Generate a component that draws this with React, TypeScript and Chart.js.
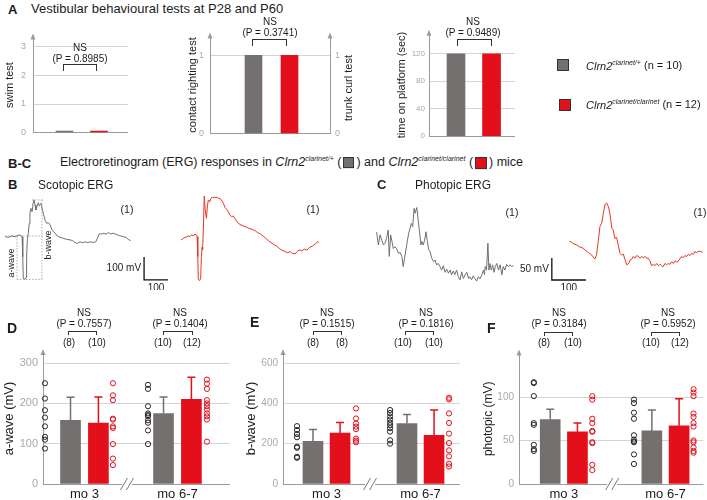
import React, { useEffect, useRef } from 'react';
import { Chart, registerables } from 'chart.js';

Chart.register(...registerables);

const FONT = '"Liberation Sans", Arial, Helvetica, sans-serif';
const C_HET = '#74706f';
const C_HOM = '#e3101b';
const C_HET_DOT = '#262626';
const C_AXIS = '#9b9b9b';
const C_GRID = '#d4d4d4';
const C_TICK = '#a9a9a9';
const C_TEXT = '#1c1c1c';
const C_TRACE_HET = '#6f6f6f';
const C_TRACE_HOM = '#e4371f';

// ---------------- data ----------------
const genotypeSup = ['clarinet/+', 'clarinet/clarinet'];
const genotypeN = [10, 12];

const swimTest = [0.05, 0.05];
const contactRighting = [1, 1];
const platformTime = [120, 120];
const vestibularP = ['0.8985', '0.3741', '0.9489'];

const ages = ['mo 3', 'mo 6-7'];

const aWaveHet = [158, 175];
const aWaveHom = [151, 210];
const aWaveHetSd = [57, 41];
const aWaveHomSd = [65, 55];
const aWaveHetMo3 = [250, 212, 183, 165, 143, 117, 110, 88];
const aWaveHomMo3 = [250, 220, 208, 162, 160, 143, 139, 99, 63, 47];
const aWaveHetMo67 = [246, 236, 193, 175, 171, 168, 158, 152, 133, 99];
const aWaveHomMo67 = [341, 259, 249, 236, 208, 200, 193, 185, 175, 168, 160, 105];
const aWaveP = ['0.7557', '0.1404'];
const aWaveN = [[8, 10], [10, 12]];

const bWaveHet = [212, 300];
const bWaveHom = [253, 242];
const bWaveHetSd = [58, 45];
const bWaveHomSd = [52, 125];
const bWaveHetMo3 = [287, 268, 248, 232, 185, 180, 135, 130];
const bWaveHomMo3 = [375, 325, 300, 285, 272, 225, 215, 207];
const bWaveHetMo67 = [367, 352, 335, 320, 305, 292, 277, 260, 217, 200];
const bWaveHomMo67 = [428, 420, 350, 303, 250, 203, 167, 137, 100, 87];
const bWaveP = ['0.1515', '0.1816'];
const bWaveN = [[8, 8], [10, 10]];

const photHet = [74, 61];
const photHom = [60, 67];
const photHetSd = [12, 24];
const photHomSd = [10, 31];
const photHetMo3 = [117, 116, 101, 70, 68, 45, 40, 38];
const photHomMo3 = [101, 97, 75, 70, 61, 60, 48, 47, 22, 16];
const photHetMo67 = [97, 93, 82, 75, 56, 51, 49, 48, 34, 23];
const photHomMo67 = [109, 105, 101, 81, 77, 70, 66, 50, 48, 42, 38, 36];
const photP = ['0.3184', '0.5952'];
const photN = [[8, 10], [10, 12]];

// ERG traces: time (ms) and amplitude (mV)
const scoHetT = [0, 14, 28, 42, 56, 65, 71, 74, 76, 83, 88, 90, 93, 97, 101, 104, 108, 113, 117, 121, 125, 129, 135, 139, 143, 149, 153, 157, 163, 168, 174, 181, 188, 195, 202, 209, 218, 229, 243, 257, 271, 282, 292, 302, 313, 324, 334, 343, 354, 368, 379, 385, 393, 403, 413, 421, 431, 441, 452, 463, 473, 482, 493, 505, 514, 524];
const scoHetV = [-3, -6, 0, -3, 4, 3, -3, -90, -184, -189, -180, -90, -17, 12, 55, 99, 120, 106, 142, 157, 135, 113, 135, 145, 131, 142, 128, 110, 84, 67, 55, 58, 48, 29, 19, 12, 0, -6, -10, -15, -17, -20, -29, -32, -26, -29, -25, -29, -26, -28, -25, -10, 9, 9, 12, 7, 15, 9, 12, 7, 3, 0, -3, -6, -15, -20];
const scoHomT = [0, 10, 19, 31, 38, 44, 51, 58, 64, 67, 70, 72, 78, 82, 85, 88, 90, 93, 97, 101, 106, 110, 114, 120, 125, 132, 139, 149, 158, 167, 177, 183, 195, 204, 211, 218, 228, 239, 250, 261, 274, 283, 297, 309, 320, 331, 342, 353, 364, 375, 386, 399, 409, 420, 434, 445, 455, 464, 475, 484, 492, 503, 514, 525, 537, 548, 559, 570, 575];
const scoHomV = [-15, -7, -3, 3, 0, 9, 3, 12, 7, 0, -87, -186, -191, -181, -87, -46, -58, 29, 177, 116, 80, 133, 160, 152, 167, 171, 171, 171, 167, 162, 145, 128, 113, 94, 87, 90, 73, 58, 51, 46, 41, 36, 32, 26, 17, 12, 3, -7, -17, -26, -33, -41, -51, -58, -65, -70, -65, -73, -75, -65, -58, -61, -55, -58, -46, -41, -32, -22, -26];
const phoHetT = [0, 5, 10, 15, 20, 25, 29, 34, 37, 41, 45, 49, 54, 59, 64, 69, 74, 78, 82, 86, 90, 94, 98, 102, 106, 110, 113, 118, 122, 126, 130, 133, 137, 141, 145, 149, 153, 157, 162, 167, 172, 176, 181, 186, 191, 196, 201, 206, 211, 216, 220, 225, 230, 235, 240, 245, 250, 255, 260, 265, 270, 274, 279, 284, 289, 294, 299, 304, 309, 314, 317, 319, 323, 327, 330, 333, 337, 341, 345, 349, 353, 358, 363, 368, 372, 377, 382, 387, 392, 397, 402];
const phoHetV = [29, 0, 23, 11, 0, 4, 15, 34, -26, 23, 8, -8, -4, -9, -19, -17, -26, -49, -30, -11, 8, 26, 38, 49, 42, 83, 72, 85, 57, 30, 0, 8, 0, 11, 30, 8, -11, -15, -30, -38, -34, -45, -42, -49, -57, -47, -62, -55, -64, -57, -68, -59, -67, -57, -72, -79, -61, -76, -68, -62, -76, -72, -79, -70, -76, -82, -72, -77, -68, -57, -67, -49, -57, 4, -57, -42, -57, -45, -62, -49, -42, -57, -45, -68, -49, -57, -44, -49, -45, -49, -47];
const phoHomT = [0, 7, 14, 22, 29, 37, 46, 56, 66, 75, 80, 85, 90, 95, 100, 105, 110, 115, 120, 125, 129, 134, 139, 144, 149, 154, 159, 164, 169, 174, 179, 184, 188, 193, 198, 203, 208, 213, 218, 223, 227, 232, 237, 242, 247, 252, 257, 262, 267, 271, 276, 281, 286, 291, 296, 301, 306, 311, 316, 321, 325, 330, 335, 340, 345, 350, 355, 360, 365, 369, 374, 379, 384, 392];
const phoHomV = [9, 6, 2, 0, -4, -6, -11, -17, -23, -32, -23, 8, 42, 49, 72, 92, 95, 87, 68, 38, 34, 15, 17, 0, -19, -23, -21, -34, -45, -42, -34, -32, -26, -30, -24, -26, -30, -26, -29, -26, -30, -30, -36, -47, -44, -47, -42, -47, -44, -47, -49, -42, -45, -42, -44, -38, -42, -36, -39, -36, -32, -26, -29, -24, -26, -21, -24, -19, -21, -15, -17, -15, -14, -17];

// ---------------- plugins ----------------
const arrowPlugin: any = {
  id: 'axisArrow',
  afterDraw(chart: any, _a: any, opts: any) {
    const sides: string[] = opts.sides || [];
    const { ctx, chartArea } = chart;
    ctx.save();
    ctx.fillStyle = C_AXIS;
    sides.forEach((s) => {
      const x = s === 'left' ? chartArea.left : chartArea.right;
      ctx.beginPath();
      ctx.moveTo(x, chartArea.top - 4);
      ctx.lineTo(x - 2.5, chartArea.top + 2);
      ctx.lineTo(x + 2.5, chartArea.top + 2);
      ctx.closePath();
      ctx.fill();
    });
    ctx.restore();
  },
};

const errorPlugin: any = {
  id: 'errorBars',
  afterDatasetsDraw(chart: any) {
    const { ctx } = chart;
    const ys = chart.scales.y;
    chart.data.datasets.forEach((ds: any, i: number) => {
      if (!ds.errors) return;
      const meta = chart.getDatasetMeta(i);
      ctx.save();
      ctx.strokeStyle = ds.backgroundColor;
      ctx.lineWidth = 1.5;
      meta.data.forEach((el: any, j: number) => {
        const v = ds.data[j].y;
        const top = ys.getPixelForValue(v + ds.errors[j]);
        ctx.beginPath();
        ctx.moveTo(el.x, el.y);
        ctx.lineTo(el.x, top);
        ctx.moveTo(el.x - 4, top);
        ctx.lineTo(el.x + 4, top);
        ctx.stroke();
      });
      ctx.restore();
    });
  },
};

const breakPlugin: any = {
  id: 'axisBreak',
  afterDraw(chart: any, _a: any, opts: any) {
    if (opts.at == null) return;
    const { ctx, chartArea } = chart;
    const x = chart.scales.x.getPixelForValue(opts.at);
    const y = chartArea.bottom;
    ctx.save();
    ctx.fillStyle = '#fff';
    ctx.fillRect(x - 5, y - 2, 10, 4);
    ctx.strokeStyle = '#777';
    ctx.lineWidth = 1;
    [-3, 3].forEach((dx) => {
      ctx.beginPath();
      ctx.moveTo(x + dx - 3.5, y + 6);
      ctx.lineTo(x + dx + 3.5, y - 6);
      ctx.stroke();
    });
    ctx.restore();
  },
};

const scaleBarPlugin: any = {
  id: 'scaleBar',
  afterDraw(chart: any, _a: any, opts: any) {
    if (!opts.t0 && opts.t0 !== 0) return;
    const { ctx } = chart;
    const xs = chart.scales.x;
    const ys = chart.scales.y;
    const x0 = xs.getPixelForValue(opts.t0);
    const x1 = xs.getPixelForValue(opts.t0 + opts.dt);
    const y0 = ys.getPixelForValue(opts.v0);
    const y1 = ys.getPixelForValue(opts.v0 + opts.dv);
    ctx.save();
    ctx.strokeStyle = '#111';
    ctx.lineWidth = 1.3;
    ctx.beginPath();
    ctx.moveTo(x0, y1);
    ctx.lineTo(x0, y0);
    ctx.lineTo(x1, y0);
    ctx.stroke();
    ctx.fillStyle = C_TEXT;
    ctx.font = `10px ${FONT}`;
    ctx.textAlign = 'right';
    ctx.textBaseline = 'middle';
    ctx.fillText(opts.vLabel, x0 - 3, (y0 + y1) / 2);
    ctx.textAlign = 'center';
    ctx.textBaseline = 'top';
    ctx.fillText(opts.tLabel, (x0 + x1) / 2, y0 + 3);
    ctx.restore();
  },
};

const waveMarksPlugin: any = {
  id: 'waveMarks',
  beforeDatasetsDraw(chart: any, _a: any, opts: any) {
    if (!opts.show) return;
    const { ctx } = chart;
    const xs = chart.scales.x;
    const ys = chart.scales.y;
    const X = (t: number) => xs.getPixelForValue(t);
    const Y = (v: number) => ys.getPixelForValue(v);
    const seg = (t0: number, v0: number, t1: number, v1: number) => {
      ctx.beginPath();
      ctx.moveTo(X(t0), Y(v0));
      ctx.lineTo(X(t1), Y(v1));
      ctx.stroke();
    };
    ctx.save();
    ctx.strokeStyle = '#b0b0b0';
    ctx.lineWidth = 1;
    ctx.setLineDash([1.5, 1.5]);
    seg(opts.tStart, 0, opts.tEnd, 0);
    seg(opts.tA, opts.vMin, opts.tB, opts.vMin);
    seg(opts.tPeak, opts.vMax, opts.tEnd, opts.vMax);
    seg(opts.tA, 0, opts.tA, opts.vMin);
    seg(opts.tB, opts.vMax, opts.tB, opts.vMin);
    ctx.restore();
  },
};

// ---------------- config builders ----------------
const fnt = (size: number) => ({ family: FONT, size });

function yAxis(o: any) {
  return {
    type: 'linear',
    position: o.position || 'left',
    min: 0,
    max: o.max,
    afterBuildTicks: (s: any) => {
      s.ticks = o.ticks.map((v: number) => ({ value: v }));
    },
    afterFit: (s: any) => {
      s.width = o.width;
    },
    grid: o.noGrid
      ? { display: false, drawTicks: false }
      : {
          drawTicks: false,
          color: (c: any) => (c.tick && c.tick.value === 0 ? C_AXIS : C_GRID),
          lineWidth: 1,
        },
    border: { display: true, color: C_AXIS, width: 1 },
    ticks: { color: C_TICK, font: fnt(o.tickSize), padding: o.tickPad },
    title: o.title
      ? {
          display: true,
          text: o.title,
          color: C_TEXT,
          font: fnt(o.titleSize),
          padding: { top: o.titlePad, bottom: 0 },
        }
      : { display: false },
  };
}

function vestibularConfig(p: any) {
  const scales: any = {
    x: { type: 'linear', display: false, min: p.xMin, max: p.xMax, offset: false },
    y: yAxis(p.y),
  };
  if (p.y2) scales.y2 = yAxis(p.y2);
  return {
    type: 'bar',
    data: {
      datasets: [
        { data: [{ x: 0, y: p.values[0] }], backgroundColor: C_HET, barThickness: p.bw, grouped: false },
        { data: [{ x: 1, y: p.values[1] }], backgroundColor: C_HOM, barThickness: p.bw, grouped: false },
      ],
    },
    options: {
      animation: false,
      responsive: false,
      events: [],
      layout: { padding: { left: 0, right: p.padRight, top: p.padTop, bottom: p.padBottom } },
      scales,
      plugins: {
        legend: { display: false },
        tooltip: { enabled: false },
        axisArrow: { sides: p.y2 ? ['left', 'right'] : ['left'] },
      },
    },
    plugins: [arrowPlugin],
  };
}

function groupedConfig(p: any) {
  const dots = (groups: number[][], offs: number[]) =>
    groups.flatMap((arr, g) => arr.map((v) => ({ x: g + offs[g], y: v })));
  const dotStyle = { pointRadius: 2.6, pointHoverRadius: 2.6, borderWidth: 1, backgroundColor: 'rgba(0,0,0,0)', clip: false };
  return {
    type: 'bar',
    data: {
      datasets: [
        { type: 'scatter', data: dots(p.hetDots, p.hetDotOff), borderColor: C_HET_DOT, ...dotStyle },
        { type: 'scatter', data: dots(p.homDots, p.homDotOff), borderColor: C_HOM, ...dotStyle },
        {
          type: 'bar',
          data: p.het.map((v: number, i: number) => ({ x: i - p.barOff, y: v })),
          backgroundColor: C_HET,
          barThickness: 20,
          grouped: false,
          errors: p.hetSd,
        },
        {
          type: 'bar',
          data: p.hom.map((v: number, i: number) => ({ x: i + p.barOff, y: v })),
          backgroundColor: C_HOM,
          barThickness: 20,
          grouped: false,
          errors: p.homSd,
        },
      ],
    },
    options: {
      animation: false,
      responsive: false,
      events: [],
      layout: { padding: { left: 0, right: p.padRight, top: p.padTop, bottom: 0 } },
      scales: {
        x: {
          type: 'linear',
          min: p.xMin,
          max: p.xMax,
          offset: false,
          afterBuildTicks: (s: any) => {
            s.ticks = ages.map((_, i) => ({ value: i }));
          },
          afterFit: (s: any) => {
            s.height = 16;
          },
          grid: { display: false, drawTicks: false },
          border: { display: false },
          ticks: {
            color: C_TEXT,
            font: fnt(13),
            padding: 3,
            autoSkip: false,
            maxRotation: 0,
            callback: (_v: any, i: number) => ages[i],
          },
        },
        y: yAxis(p.y),
      },
      plugins: {
        legend: { display: false },
        tooltip: { enabled: false },
        axisArrow: { sides: ['left'] },
        axisBreak: { at: p.breakAt },
      },
    },
    plugins: [arrowPlugin, errorPlugin, breakPlugin],
  };
}

function traceConfig(t: number[], v: number[], color: string, r: any, extra: any) {
  return {
    type: 'line',
    data: {
      datasets: [
        {
          data: t.map((x, i) => ({ x, y: v[i] })),
          borderColor: color,
          borderWidth: 1,
          pointRadius: 0,
          tension: 0,
          fill: false,
        },
      ],
    },
    options: {
      animation: false,
      responsive: false,
      events: [],
      layout: { padding: 0 },
      scales: {
        x: { type: 'linear', display: false, min: r.xMin, max: r.xMax },
        y: { type: 'linear', display: false, min: r.yMin, max: r.yMax },
      },
      plugins: {
        legend: { display: false },
        tooltip: { enabled: false },
        scaleBar: extra.scaleBar || {},
        waveMarks: extra.waveMarks || {},
      },
    },
    plugins: [scaleBarPlugin, waveMarksPlugin],
  };
}

// ---------------- components ----------------
function ChartBox({ box, make }: { box: number[]; make: () => any }) {
  const ref = useRef<HTMLCanvasElement>(null);
  useEffect(() => {
    const chart = new Chart(ref.current as HTMLCanvasElement, make());
    return () => chart.destroy();
  }, []);
  const [left, top, width, height] = box;
  return <canvas ref={ref} width={width} height={height} style={{ position: 'absolute', left, top, width, height }} />;
}

function Txt(props: any) {
  const { x, y, size = 10, anchor = 'middle', bold, italic, rotate, color = C_TEXT, children } = props;
  const tx = anchor === 'start' ? '0' : anchor === 'end' ? '-100%' : '-50%';
  return (
    <div
      style={{
        position: 'absolute',
        left: x,
        top: y,
        transform: `translate(${tx}, -50%)${rotate ? ` rotate(${rotate}deg)` : ''}`,
        fontSize: size,
        fontWeight: bold ? 700 : 400,
        fontStyle: italic ? 'italic' : 'normal',
        color,
        whiteSpace: 'nowrap',
        lineHeight: 1,
        fontFamily: FONT,
      }}
    >
      {children}
    </div>
  );
}

function Bracket({ x0, x1, y, h, w = 1 }: any) {
  return (
    <div
      style={{
        position: 'absolute',
        left: x0,
        top: y,
        width: x1 - x0,
        height: h,
        borderTop: `${w}px solid #333`,
        borderLeft: `${w}px solid #333`,
        borderRight: `${w}px solid #333`,
        boxSizing: 'border-box',
      }}
    />
  );
}

function Swatch({ x, y, s, color }: any) {
  return (
    <div
      style={{
        position: 'absolute',
        left: x,
        top: y,
        width: s,
        height: s,
        background: color,
        border: '1px solid #333',
        boxSizing: 'border-box',
      }}
    />
  );
}

function Geno({ sup, size = 11, supSize = 7 }: any) {
  return (
    <span>
      <i>Clrn2</i>
      <span style={{ fontSize: supSize, verticalAlign: 'super', fontStyle: 'italic' }}>{sup}</span>
    </span>
  );
}

function Sig({ cx, nsY, pY, p, bx0, bx1, by, bh, size = 10, w = 1 }: any) {
  return (
    <>
      <Txt x={cx} y={nsY} size={size}>NS</Txt>
      <Txt x={cx} y={pY} size={size}>{`(P = ${p})`}</Txt>
      <Bracket x0={bx0} x1={bx1} y={by} h={bh} w={w} />
    </>
  );
}

const scoMin = Math.min(...scoHetV);
const scoMax = Math.max(...scoHetV);

export default function App() {
  return (
    <div
      style={{
        position: 'absolute',
        left: 0,
        top: 0,
        width: 707,
        height: 500,
        background: '#fff',
        overflow: 'hidden',
        fontFamily: FONT,
      }}
    >
      {/* ---------- Panel A ---------- */}
      <Txt x={8} y={9} size={13} bold anchor="start">A</Txt>
      <Txt x={31} y={8} size={13} anchor="start">Vestibular behavioural tests at P28 and P60</Txt>

      <ChartBox
        box={[0, 25, 135, 120]}
        make={() =>
          vestibularConfig({
            values: swimTest,
            bw: 17,
            xMin: -0.913,
            xMax: 1.84,
            padTop: 8,
            padRight: 7,
            padBottom: 10,
            y: { max: 3.33, ticks: [0, 1, 2, 3], width: 33, tickSize: 9, tickPad: 7, title: 'swim test', titleSize: 11, titlePad: 3.4 },
          })
        }
      />
      <Sig cx={80} nsY={48} pY={59} p={vestibularP[0]} bx0={63} bx1={97} by={64} bh={7} w={1.5} />

      <ChartBox
        box={[180, 25, 180, 120]}
        make={() =>
          vestibularConfig({
            values: contactRighting,
            bw: 17,
            xMin: -1.208,
            xMax: 2.125,
            padTop: 7,
            padRight: 0,
            padBottom: 10,
            y: { max: 1.24, ticks: [0, 1], width: 30, tickSize: 9, tickPad: 6, title: 'contact righting test', titleSize: 11, titlePad: 6.4 },
            y2: { position: 'right', max: 1.24, ticks: [0, 1], width: 30, tickSize: 9, tickPad: 5, noGrid: true },
          })
        }
      />
      <Sig cx={270} nsY={22} pY={33} p={vestibularP[1]} bx0={252} bx1={287} by={39} bh={7} w={1.5} />
      <Txt x={348} y={88} size={11} rotate={-90}>trunk curl test</Txt>

      <ChartBox
        box={[390, 25, 130, 120]}
        make={() =>
          vestibularConfig({
            values: platformTime,
            bw: 18,
            xMin: -0.76,
            xMax: 1.66,
            padTop: 5,
            padRight: 5,
            padBottom: 8,
            y: { max: 149, ticks: [0, 40, 80, 120], width: 39, tickSize: 8, tickPad: 4, title: 'time on platform (sec)', titleSize: 11, titlePad: 5.4 },
          })
        }
      />
      <Sig cx={473} nsY={22} pY={33} p={vestibularP[2]} bx0={457} bx1={492} by={39} bh={7} w={1.5} />

      {/* legend */}
      <Swatch x={557} y={59} s={12} color={C_HET} />
      <Txt x={586} y={65} size={11} anchor="start">
        <Geno sup={genotypeSup[0]} /> {`(n = ${genotypeN[0]})`}
      </Txt>
      <Swatch x={559} y={99} s={12} color={C_HOM} />
      <Txt x={586} y={104} size={11} anchor="start">
        <Geno sup={genotypeSup[1]} /> {`(n = ${genotypeN[1]})`}
      </Txt>

      {/* ---------- B-C heading ---------- */}
      <Txt x={8} y={163} size={13} bold anchor="start">B-C</Txt>
      <Txt x={60} y={162} size={12.5} anchor="start">
        Electroretinogram (ERG) responses in <Geno sup={genotypeSup[0]} /> (
        <span style={{ display: 'inline-block', width: 9, height: 9, background: C_HET, border: '1px solid #333', verticalAlign: 'middle', margin: '0 2px' }} />
        ) and <Geno sup={genotypeSup[1]} /> (
        <span style={{ display: 'inline-block', width: 10, height: 10, background: C_HOM, border: '1px solid #333', verticalAlign: 'middle', margin: '0 2px' }} />
        ) mice
      </Txt>

      {/* ---------- B scotopic ---------- */}
      <Txt x={8} y={184} size={13} bold anchor="start">B</Txt>
      <Txt x={38} y={185} size={12} anchor="start">Scotopic ERG</Txt>
      <ChartBox
        box={[0, 190, 175, 100]}
        make={() =>
          traceConfig(scoHetT, scoHetV, C_TRACE_HET, { xMin: -21, xMax: 709, yMin: -235, yMax: 200 }, {
            scaleBar: { t0: 580, v0: -191, dt: 100, dv: 100, vLabel: '100 mV', tLabel: '100' },
            waveMarks: { show: true, tStart: 0, tEnd: 158, tA: 50, tB: 154, tPeak: 113, vMin: scoMin, vMax: scoMax },
          })
        }
      />
      <ChartBox
        box={[175, 190, 155, 100]}
        make={() => traceConfig(scoHomT, scoHomV, C_TRACE_HOM, { xMin: -25, xMax: 621, yMin: -232, yMax: 203 }, {})}
      />
      <Txt x={11} y={263} size={9} rotate={-90}>a-wave</Txt>
      <Txt x={48} y={245} size={9} rotate={-90}>b-wave</Txt>
      <Txt x={127} y={209} size={10.5}>(1)</Txt>
      <Txt x={313} y={209} size={10.5}>(1)</Txt>

      {/* ---------- C photopic ---------- */}
      <Txt x={377} y={184} size={13} bold anchor="start">C</Txt>
      <Txt x={415} y={185} size={12} anchor="start">Photopic ERG</Txt>
      <ChartBox
        box={[370, 195, 220, 95]}
        make={() =>
          traceConfig(phoHetT, phoHetV, C_TRACE_HET, { xMin: -19.6, xMax: 627.2, yMin: -102.2, yMax: 113.5 }, {
            scaleBar: { t0: 515, v0: -79.5, dt: 100, dv: 50, vLabel: '50 mV', tLabel: '100' },
          })
        }
      />
      <ChartBox
        box={[560, 195, 147, 95]}
        make={() => traceConfig(phoHomT, phoHomV, C_TRACE_HOM, { xMin: -27.4, xMax: 404.8, yMin: -102.2, yMax: 113.5 }, {})}
      />
      <Txt x={512} y={212} size={10.5}>(1)</Txt>
      <Txt x={700} y={212} size={10.5}>(1)</Txt>

      {/* ---------- D ---------- */}
      <Txt x={7} y={328} size={14} bold anchor="start">D</Txt>
      <ChartBox
        box={[0, 340, 235, 160]}
        make={() =>
          groupedConfig({
            het: aWaveHet, hom: aWaveHom, hetSd: aWaveHetSd, homSd: aWaveHomSd,
            hetDots: [aWaveHetMo3, aWaveHetMo67], homDots: [aWaveHomMo3, aWaveHomMo67],
            xMin: -0.446, xMax: 1.565, barOff: 0.15,
            hetDotOff: [-0.425, -0.317], homDotOff: [0.306, 0.317], breakAt: 0.457,
            padTop: 13, padRight: 5,
            y: { max: 325, ticks: [0, 100, 200, 300], width: 43, tickSize: 11, tickPad: 5, title: 'a-wave (mV)', titleSize: 13, titlePad: 2 },
          })
        }
      />
      <Sig cx={84} nsY={313} pY={324} p={aWaveP[0]} bx0={68} bx1={97} by={331} bh={4} />
      <Txt x={69} y={343}>{`(${aWaveN[0][0]})`}</Txt>
      <Txt x={97} y={343}>{`(${aWaveN[0][1]})`}</Txt>
      <Sig cx={180} nsY={313} pY={324} p={aWaveP[1]} bx0={163} bx1={193} by={331} bh={4} />
      <Txt x={163} y={343}>{`(${aWaveN[1][0]})`}</Txt>
      <Txt x={192} y={343}>{`(${aWaveN[1][1]})`}</Txt>

      {/* ---------- E ---------- */}
      <Txt x={250} y={322} size={14} bold anchor="start">E</Txt>
      <ChartBox
        box={[240, 340, 225, 160]}
        make={() =>
          groupedConfig({
            het: bWaveHet, hom: bWaveHom, hetSd: bWaveHetSd, homSd: bWaveHomSd,
            hetDots: [bWaveHetMo3, bWaveHetMo67], homDots: [bWaveHomMo3, bWaveHomMo67],
            xMin: -0.463, xMax: 1.42, barOff: 0.144,
            hetDotOff: [-0.314, -0.324], homDotOff: [0.314, 0.303], breakAt: 0.463,
            padTop: 13, padRight: 5,
            y: { max: 650, ticks: [0, 200, 400, 600], width: 43, tickSize: 10, tickPad: 5, title: 'b-wave (mV)', titleSize: 13, titlePad: 4 },
          })
        }
      />
      <Sig cx={327} nsY={313} pY={324} p={bWaveP[0]} bx0={313} bx1={342} by={331} bh={4} />
      <Txt x={313} y={343}>{`(${bWaveN[0][0]})`}</Txt>
      <Txt x={342} y={343}>{`(${bWaveN[0][1]})`}</Txt>
      <Sig cx={426} nsY={313} pY={324} p={bWaveP[1]} bx0={405} bx1={434} by={331} bh={4} />
      <Txt x={403} y={343}>{`(${bWaveN[1][0]})`}</Txt>
      <Txt x={434} y={343}>{`(${bWaveN[1][1]})`}</Txt>

      {/* ---------- F ---------- */}
      <Txt x={487} y={328} size={14} bold anchor="start">F</Txt>
      <ChartBox
        box={[470, 340, 237, 160]}
        make={() =>
          groupedConfig({
            het: photHet, hom: photHom, hetSd: photHetSd, homSd: photHomSd,
            hetDots: [photHetMo3, photHetMo67], homDots: [photHomMo3, photHomMo67],
            xMin: -0.441, xMax: 1.373, barOff: 0.134,
            hetDotOff: [-0.295, -0.31], homDotOff: [0.28, 0.276], breakAt: 0.476,
            padTop: 13.5, padRight: 2,
            y: { max: 150, ticks: [0, 50, 100], width: 49, tickSize: 10, tickPad: 5, title: 'photopic (mV)', titleSize: 12, titlePad: 11.8 },
          })
        }
      />
      <Sig cx={559} nsY={313} pY={324} p={photP[0]} bx0={544} bx1={573} by={332} bh={4} />
      <Txt x={544} y={343}>{`(${photN[0][0]})`}</Txt>
      <Txt x={573} y={343}>{`(${photN[0][1]})`}</Txt>
      <Sig cx={668} nsY={313} pY={324} p={photP[1]} bx0={651} bx1={680} by={332} bh={4} />
      <Txt x={651} y={343}>{`(${photN[1][0]})`}</Txt>
      <Txt x={680} y={343}>{`(${photN[1][1]})`}</Txt>
    </div>
  );
}
